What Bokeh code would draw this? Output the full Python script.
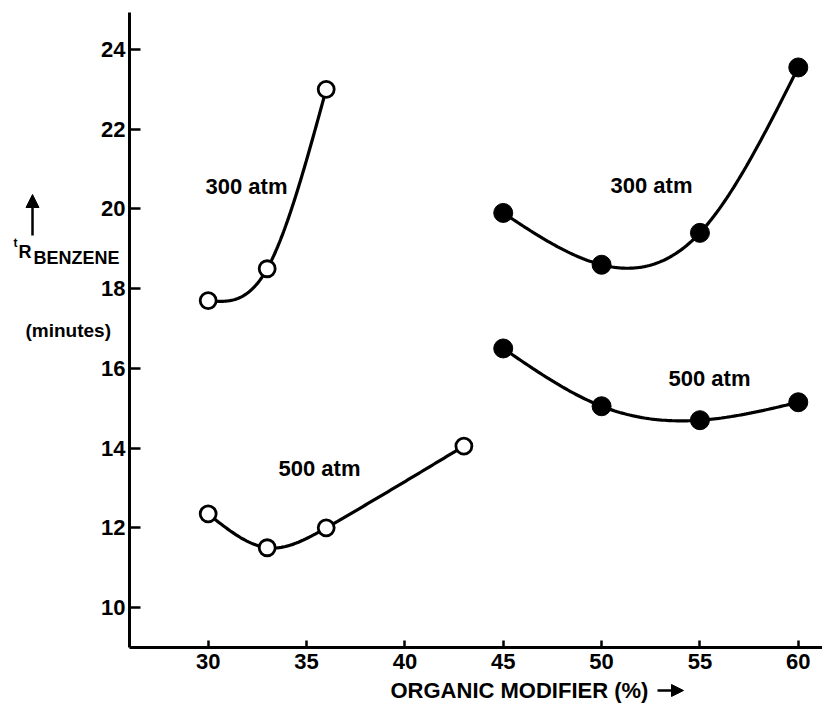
import numpy as np
from bokeh.plotting import figure
from bokeh.models import Range1d, FixedTicker, Label, LinearAxis, Arrow, NormalHead
from bokeh.embed import file_html
from bokeh.resources import INLINE

# ---- data ----
open300_x = [30, 33, 36]
open300_y = [17.7, 18.5, 23.0]
open500_x = [30, 33, 36, 43]
open500_y = [12.35, 11.5, 12.0, 14.05]
fill300_x = [45, 50, 55, 60]
fill300_y = [19.9, 18.6, 19.4, 23.55]
fill500_x = [45, 50, 55, 60]
fill500_y = [16.5, 15.05, 14.7, 15.15]
x_ticks = [30, 35, 40, 45, 50, 55, 60]
y_ticks = [10, 12, 14, 16, 18, 20, 22, 24]

FONT = "Liberation Sans"
W, H = 822, 705


def natural_spline(xs, ys, n=120):
    """Smooth rendering of a hand-drawn curve through the data points."""
    x = np.asarray(xs, float)
    y = np.asarray(ys, float)
    k = len(x)
    h = np.diff(x)
    A = np.zeros((k, k))
    b = np.zeros(k)
    A[0, 0] = 1
    A[-1, -1] = 1
    for i in range(1, k - 1):
        A[i, i - 1] = h[i - 1]
        A[i, i] = 2 * (h[i - 1] + h[i])
        A[i, i + 1] = h[i]
        b[i] = 6 * ((y[i + 1] - y[i]) / h[i] - (y[i] - y[i - 1]) / h[i - 1])
    M = np.linalg.solve(A, b)
    xx = np.linspace(x[0], x[-1], n)
    yy = np.empty_like(xx)
    for j, t in enumerate(xx):
        i = max(min(np.searchsorted(x, t, side="right") - 1, k - 2), 0)
        a = x[i + 1] - t
        c = t - x[i]
        hi = h[i]
        yy[j] = (M[i] * a**3 / (6 * hi) + M[i + 1] * c**3 / (6 * hi)
                 + (y[i] / hi - M[i] * hi / 6) * a
                 + (y[i + 1] / hi - M[i + 1] * hi / 6) * c)
    return xx, yy


# pixel -> data helpers (30 -> x 208 px, 60 -> 798 px; 24 -> y 49 px, 10 -> 607 px)
def dx(px):
    return 26 + (px - 129) / 19.67


def dy(py):
    return 24 - (py - 49) / 39.86


p = figure(width=W, height=H, output_backend="svg", toolbar_location=None,
           x_range=Range1d(dx(0), dx(W)), y_range=Range1d(dy(H), dy(0)),
           x_axis_location=None, y_axis_location=None, min_border=0)
p.title.visible = False
p.outline_line_color = None
p.grid.visible = False
p.background_fill_color = "white"
p.border_fill_color = "white"

xaxis = LinearAxis(fixed_location=dy(647), bounds=(dx(129), dx(W)),
                   ticker=FixedTicker(ticks=x_ticks))
yaxis = LinearAxis(fixed_location=dx(129), bounds=(dy(647), dy(12)),
                   ticker=FixedTicker(ticks=y_ticks))
for ax in (xaxis, yaxis):
    ax.axis_line_width = 3
    ax.axis_line_color = "black"
    ax.major_tick_line_width = 2.5
    ax.major_tick_line_color = "black"
    ax.minor_tick_line_color = None
    ax.major_tick_out = 0
    ax.major_label_text_font = FONT
    ax.major_label_text_font_style = "bold"
    ax.major_label_text_font_size = "22px"
    ax.major_label_text_color = "black"
xaxis.major_tick_in = 7
yaxis.major_tick_in = 11
xaxis.major_label_standoff = 6
yaxis.major_label_standoff = 4
p.add_layout(xaxis, "below")
p.add_layout(yaxis, "left")

# curves
for xs, ys in [(open300_x, open300_y), (open500_x, open500_y),
               (fill300_x, fill300_y), (fill500_x, fill500_y)]:
    cx, cy = natural_spline(xs, ys)
    p.line(cx, cy, line_color="black", line_width=3.2)

# markers
for xs, ys in [(open300_x, open300_y), (open500_x, open500_y)]:
    p.scatter(xs, ys, size=16, fill_color="white", line_color="black", line_width=2.8)
for xs, ys in [(fill300_x, fill300_y), (fill500_x, fill500_y)]:
    p.scatter(xs, ys, size=19, fill_color="black", line_color="black")


def lab(px, py, t, size="22px", align="left", baseline="middle"):
    p.add_layout(Label(x=dx(px), y=dy(py), text=t, text_font=FONT,
                       text_font_style="bold", text_font_size=size,
                       text_align=align, text_baseline=baseline, text_color="black"))


lab(205, 186, "300 atm")
lab(278, 468, "500 atm")
lab(610, 185, "300 atm")
lab(668, 378, "500 atm")

# y-axis title pieces
lab(13, 242, "t", size="12px")
lab(18, 251, "R", size="18px")
lab(33, 257, "BENZENE", size="18px")
lab(25, 330, "(minutes)", size="19px")
p.add_layout(Arrow(x_start=dx(32), y_start=dy(235), x_end=dx(32), y_end=dy(194),
                   line_width=2.5, line_color="black",
                   end=NormalHead(size=13, fill_color="black", line_color="black")))

# x-axis title
lab(390, 690, "ORGANIC MODIFIER (%)", size="22px")
p.add_layout(Arrow(x_start=dx(657), y_start=dy(690), x_end=dx(683), y_end=dy(690),
                   line_width=2.5, line_color="black",
                   end=NormalHead(size=12, fill_color="black", line_color="black")))

open("out.html", "w").write(file_html(p, INLINE))
